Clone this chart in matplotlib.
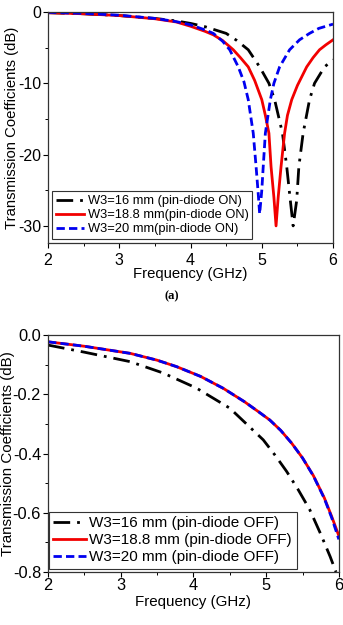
import matplotlib
matplotlib.use("Agg")
import matplotlib.pyplot as plt
from matplotlib.ticker import MultipleLocator, FormatStrFormatter

plt.rcParams['font.family'] = ['Liberation Sans', 'DejaVu Sans']
plt.rcParams['axes.unicode_minus'] = False

# ---------------- Data: (a) pin-diode ON ----------------
on16_x = [2.0, 2.5, 3.0, 3.5, 3.8, 4.0, 4.2, 4.5, 4.65, 4.81, 4.97, 5.1, 5.18, 5.29, 5.35, 5.4, 5.44,
          5.49, 5.52, 5.58, 5.67, 5.74, 5.88, 6.0]
on16_y = [-0.1, -0.25, -0.5, -0.9, -1.25, -1.6, -2.05, -3.0, -4.0, -5.3, -7.7, -10.0, -12.3, -17.0, -21.7, -26.4, -30.0,
          -26.4, -21.7, -17.0, -12.3, -10.0, -7.7, -6.7]

on188_x = [2.0, 2.5, 3.0, 3.5, 3.8, 4.0, 4.2, 4.32, 4.45, 4.6, 4.7, 4.81, 4.9, 5.0, 5.05, 5.1, 5.13, 5.17, 5.2,
           5.23, 5.27, 5.32, 5.36, 5.42, 5.5, 5.63, 5.72, 5.81, 5.9, 6.0]
on188_y = [-0.1, -0.25, -0.5, -0.95, -1.4, -2.0, -2.7, -3.2, -4.0, -5.3, -6.4, -7.7, -9.6, -12.3, -14.5, -17.0, -21.7, -26.0, -30.0,
           -26.0, -21.7, -17.0, -14.5, -12.3, -10.3, -7.7, -6.4, -5.3, -4.6, -3.9]

on20_x = [2.0, 2.5, 3.0, 3.5, 3.8, 4.0, 4.2, 4.32, 4.45, 4.55, 4.67, 4.75, 4.81, 4.88, 4.92, 4.95, 4.97,
          5.0, 5.02, 5.05, 5.12, 5.17, 5.25, 5.39, 5.53, 5.67, 5.8, 5.9, 6.0]
on20_y = [-0.05, -0.2, -0.45, -0.9, -1.35, -1.8, -2.5, -3.0, -4.1, -5.3, -7.7, -9.8, -12.3, -17.0, -21.7, -25.5, -28.3,
          -25.0, -21.7, -17.0, -12.3, -10.0, -7.7, -5.3, -3.9, -3.0, -2.3, -2.0, -1.7]

labels_on = ["W3=16 mm (pin-diode ON)", "W3=18.8 mm(pin-diode ON)", "W3=20 mm(pin-diode ON)"]

# ---------------- Data: (b) pin-diode OFF ----------------
off16_x = [2.0, 2.5, 3.13, 3.58, 4.04, 4.5, 4.96, 5.12, 5.28, 5.44, 5.6, 5.75, 5.88, 5.96]
off16_y = [-0.034, -0.058, -0.09, -0.128, -0.179, -0.247, -0.354, -0.405, -0.46, -0.522, -0.59, -0.672, -0.748, -0.80]

off188_x = [2.0, 2.5, 3.13, 3.5, 3.77, 4.1, 4.41, 4.7, 4.9, 5.05, 5.2, 5.35, 5.5, 5.65, 5.8, 5.9, 6.0]
off188_y = [-0.023, -0.038, -0.062, -0.085, -0.107, -0.14, -0.18, -0.225, -0.26, -0.287, -0.322, -0.365, -0.415,
            -0.475, -0.55, -0.612, -0.678]

off20_x = [2.0, 2.5, 3.13, 3.5, 3.77, 4.1, 4.41, 4.7, 4.9, 5.05, 5.2, 5.35, 5.5, 5.65, 5.8, 5.9, 6.0]
off20_y = [-0.023, -0.038, -0.062, -0.085, -0.107, -0.14, -0.18, -0.225, -0.26, -0.287, -0.322, -0.365, -0.415,
           -0.476, -0.552, -0.616, -0.69]

labels_off = ["W3=16 mm (pin-diode OFF)", "W3=18.8 mm (pin-diode OFF)", "W3=20 mm (pin-diode OFF)"]

xlabel = "Frequency (GHz)"
ylabel = "Transmission Coefficients (dB)"

BLACK = '#000000'
RED = '#f20000'
BLUE = '#0000f0'

fig = plt.figure(figsize=(3.43, 6.25), dpi=100)

def style_axes(ax, tickfs, xpad):
    for s in ax.spines.values():
        s.set_linewidth(0.9)
        s.set_color('#333333')
    ax.tick_params(which='major', direction='out', length=3.5, width=0.8, labelsize=tickfs,
                   top=False, right=False)
    ax.tick_params(which='minor', direction='out', length=2, width=0.7, top=False, right=False)
    ax.tick_params(axis='x', which='major', pad=xpad)
    ax.tick_params(axis='y', which='major', pad=1.5)

# ---------- top panel ----------
ax1 = fig.add_axes([0.140, 0.6112, 0.831, 0.3696])
ax1.plot(on16_x, on16_y, color=BLACK, lw=2.0, dashes=(6, 2.5, 1, 2.5), label=labels_on[0])
ax1.plot(on188_x, on188_y, color=RED, lw=2.0, label=labels_on[1])
ax1.plot(on20_x, on20_y, color=BLUE, lw=2.0, dashes=(3, 1.5), label=labels_on[2])
ax1.set_xlim(2, 6)
ax1.set_ylim(-32.4, 0)
ax1.xaxis.set_major_locator(MultipleLocator(1))
ax1.xaxis.set_minor_locator(MultipleLocator(0.5))
ax1.yaxis.set_major_locator(MultipleLocator(10))
ax1.yaxis.set_minor_locator(MultipleLocator(5))
style_axes(ax1, 11.5, 3.5)
ax1.set_xlabel(xlabel, fontsize=10.7, labelpad=-0.5)
ax1.set_ylabel(ylabel, fontsize=10.7, labelpad=-1)
leg1 = ax1.legend(loc='lower left', bbox_to_anchor=(0.014, 0.017), fontsize=9.3,
                  handlelength=2.2, handletextpad=0.25, labelspacing=0.15, borderpad=0.3,
                  borderaxespad=0, fancybox=False, framealpha=1)
leg1.get_frame().set_edgecolor('#333333')
leg1.get_frame().set_linewidth(0.8)

fig.text(0.5, 1 - 296 / 625, "(a)", ha='center', va='center', fontsize=9,
         fontweight='bold', family=['Liberation Serif', 'DejaVu Serif'])

# ---------- bottom panel ----------
ax2 = fig.add_axes([0.140, 0.0848, 0.848, 0.3792])
ax2.plot(off16_x, off16_y, color=BLACK, lw=2.0, dashes=(6, 2.5, 1, 2.5), label=labels_off[0])
ax2.plot(off188_x, off188_y, color=RED, lw=2.0, label=labels_off[1])
ax2.plot(off20_x, off20_y, color=BLUE, lw=2.0, dashes=(3, 1.5), label=labels_off[2])
ax2.set_xlim(2, 6)
ax2.set_ylim(-0.8, 0.0)
ax2.xaxis.set_major_locator(MultipleLocator(1))
ax2.xaxis.set_minor_locator(MultipleLocator(0.5))
ax2.yaxis.set_major_locator(MultipleLocator(0.2))
ax2.yaxis.set_minor_locator(MultipleLocator(0.1))
ax2.yaxis.set_major_formatter(FormatStrFormatter('%.1f'))
style_axes(ax2, 11.8, 0.5)
ax2.set_xlabel(xlabel, fontsize=10.9, labelpad=1.5)
ax2.set_ylabel(ylabel, fontsize=10.9, labelpad=-2)
leg2 = ax2.legend(loc='lower left', bbox_to_anchor=(0.003, 0.013), fontsize=11,
                  handlelength=2.1, handletextpad=0.25, labelspacing=0.2, borderpad=0.3,
                  borderaxespad=0, fancybox=False, framealpha=1)
leg2.get_frame().set_edgecolor('#333333')
leg2.get_frame().set_linewidth(0.8)

fig.savefig("out.png", dpi=100)
